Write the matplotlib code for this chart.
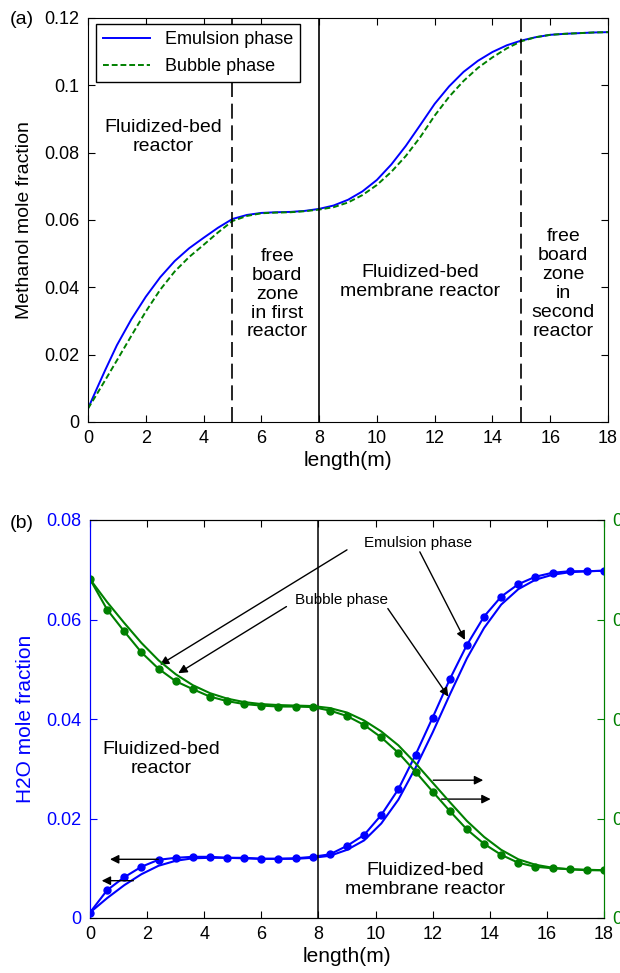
import matplotlib
matplotlib.use("Agg")
import matplotlib.pyplot as plt
from matplotlib.ticker import FuncFormatter

plt.rcParams['font.family'] = ['Liberation Sans', 'DejaVu Sans']

# ---------------- Panel (a) data: methanol mole fraction ----------------
xa = [0, 0.3, 0.6, 1, 1.5, 2, 2.5, 3, 3.5, 4, 4.5, 5, 5.5, 6, 6.5, 7, 7.5, 8,
      8.5, 9, 9.5, 10, 10.5, 11, 11.5, 12, 12.5, 13, 13.5, 14, 14.5, 15,
      15.5, 16, 16.5, 17, 17.5, 18]
meoh_emulsion = [0.0040, 0.0098, 0.0155, 0.0228, 0.0305, 0.0372, 0.0430, 0.0478,
                 0.0516, 0.0547, 0.0577, 0.0603, 0.0615, 0.0621, 0.0623, 0.0624,
                 0.0627, 0.0633, 0.0643, 0.0660, 0.0685, 0.0719, 0.0765, 0.0820,
                 0.0882, 0.0945, 0.0997, 0.1040, 0.1073, 0.1099, 0.1119, 0.1133,
                 0.1143, 0.1150, 0.1153, 0.1155, 0.1157, 0.1158]
meoh_bubble = [0.0040, 0.0082, 0.0125, 0.0183, 0.0256, 0.0328, 0.0393, 0.0447,
               0.0490, 0.0526, 0.0563, 0.0597, 0.0612, 0.0620, 0.0622, 0.0623,
               0.0626, 0.0631, 0.0638, 0.0652, 0.0674, 0.0704, 0.0743, 0.0790,
               0.0846, 0.0910, 0.0966, 0.1013, 0.1052, 0.1083, 0.1110, 0.1131,
               0.1143, 0.1150, 0.1153, 0.1155, 0.1157, 0.1158]

# ---------------- Panel (b) data ----------------
xb = [0, 0.6, 1.2, 1.8, 2.4, 3.0, 3.6, 4.2, 4.8, 5.4, 6.0, 6.6, 7.2, 7.8, 8.4,
      9.0, 9.6, 10.2, 10.8, 11.4, 12.0, 12.6, 13.2, 13.8, 14.4, 15.0, 15.6,
      16.2, 16.8, 17.4, 18.0]
h2o_emulsion = [0.0011, 0.0056, 0.0082, 0.0103, 0.0117, 0.0121, 0.0123, 0.0123,
                0.0121, 0.0121, 0.0119, 0.0119, 0.0120, 0.0123, 0.0128, 0.0145,
                0.0167, 0.0207, 0.0259, 0.0328, 0.0403, 0.0480, 0.0549, 0.0606,
                0.0646, 0.0671, 0.0686, 0.0694, 0.0697, 0.0697, 0.0698]
h2o_bubble = [0.0011, 0.0040, 0.0066, 0.0088, 0.0105, 0.0115, 0.0120, 0.0121,
              0.0121, 0.0120, 0.0119, 0.0119, 0.0119, 0.0121, 0.0125, 0.0137,
              0.0156, 0.0190, 0.0238, 0.0302, 0.0373, 0.0449, 0.0522, 0.0583,
              0.0630, 0.0661, 0.0680, 0.0690, 0.0695, 0.0697, 0.0698]
right_emulsion = [0.0681, 0.0620, 0.0576, 0.0534, 0.0501, 0.0476, 0.0460, 0.0445,
                  0.0436, 0.0430, 0.0427, 0.0425, 0.0425, 0.0424, 0.0417, 0.0406,
                  0.0388, 0.0363, 0.0332, 0.0294, 0.0254, 0.0215, 0.0178, 0.0149,
                  0.0127, 0.0111, 0.0103, 0.0100, 0.0098, 0.0096, 0.0096]
right_bubble = [0.0681, 0.0635, 0.0593, 0.0553, 0.0518, 0.0490, 0.0468, 0.0452,
                0.0441, 0.0434, 0.0430, 0.0428, 0.0427, 0.0426, 0.0422, 0.0413,
                0.0397, 0.0375, 0.0347, 0.0311, 0.0272, 0.0233, 0.0195, 0.0163,
                0.0137, 0.0118, 0.0107, 0.0101, 0.0098, 0.0097, 0.0096]

xticks = [0, 2, 4, 6, 8, 10, 12, 14, 16, 18]
yticks_a = [0, 0.02, 0.04, 0.06, 0.08, 0.1, 0.12]
yticks_b = [0, 0.02, 0.04, 0.06, 0.08]

W, H = 620, 973
fig = plt.figure(figsize=(W / 100, H / 100), dpi=100)
fmt = FuncFormatter(lambda v, p: '%g' % round(v, 4))

BLUE = '#0000ff'
GREEN = '#008000'
TFS = 13

# ---------------- Panel (a) ----------------
ax1 = fig.add_axes([88 / W, 1 - 422 / H, (608 - 88) / W, (422 - 18) / H])
ax1.plot(xa, meoh_emulsion, color=BLUE, lw=1.4, label='Emulsion phase')
ax1.plot(xa, meoh_bubble, color=GREEN, lw=1.4, ls=(0, (3, 1.5)), label='Bubble phase')
ax1.set_xlim(0, 18)
ax1.set_ylim(0, 0.12)
ax1.set_xticks(xticks)
ax1.set_yticks(yticks_a)
ax1.yaxis.set_major_formatter(fmt)
ax1.tick_params(direction='in', top=True, right=True, labelsize=TFS, pad=6, length=5)
ax1.axvline(5, color='black', lw=1.2, ls=(0, (9, 4)))
ax1.axvline(8, color='black', lw=1.2)
ax1.axvline(15, color='black', lw=1.2, ls=(0, (9, 4)))
ax1.set_xlabel('length(m)', fontsize=15, labelpad=3)
ax1.set_ylabel('Methanol mole fraction', fontsize=14, labelpad=8)
leg = ax1.legend(loc='upper left', bbox_to_anchor=(0.0154, 0.985), fontsize=13,
                 frameon=True, fancybox=False, edgecolor='black', framealpha=1,
                 handlelength=2.6, borderpad=0.4, labelspacing=0.55, borderaxespad=0)
leg.get_frame().set_linewidth(1.0)
ax1.text(2.6, 0.0847, 'Fluidized-bed\nreactor', ha='center', va='center', fontsize=14)
ax1.text(6.55, 0.038, 'free\nboard\nzone\nin first\nreactor', ha='center', va='center',
         fontsize=14, linespacing=1.15)
ax1.text(11.5, 0.0416, 'Fluidized-bed\nmembrane reactor', ha='center', va='center', fontsize=14)
ax1.text(16.45, 0.041, 'free\nboard\nzone\nin\nsecond\nreactor', ha='center', va='center',
         fontsize=14, linespacing=1.15)
fig.text(10 / W, 1 - 20 / H, '(a)', fontsize=14, ha='left', va='center')

# ---------------- Panel (b) ----------------
ax2 = fig.add_axes([90 / W, 1 - 918 / H, (604 - 90) / W, (918 - 520) / H])
ax3 = ax2.twinx()
ax2.plot(xb, h2o_emulsion, color=BLUE, lw=1.5, marker='o', ms=5)
ax2.plot(xb, h2o_bubble, color=BLUE, lw=1.5)
ax3.plot(xb, right_emulsion, color=GREEN, lw=1.5, marker='o', ms=5)
ax3.plot(xb, right_bubble, color=GREEN, lw=1.5)
for a in (ax2, ax3):
    a.set_xlim(0, 18)
    a.set_ylim(0, 0.08)
    a.set_yticks(yticks_b)
    a.yaxis.set_major_formatter(fmt)
ax2.set_xticks(xticks)
ax2.tick_params(axis='x', direction='in', top=True, labelsize=TFS, pad=6, length=5)
ax2.tick_params(axis='y', direction='in', colors=BLUE, labelsize=TFS, pad=6, length=5)
ax3.tick_params(axis='y', direction='in', colors=GREEN, labelsize=TFS, pad=6, length=5)
ax2.spines['left'].set_color(BLUE)
ax3.spines['left'].set_color(BLUE)
ax3.spines['right'].set_color(GREEN)
ax2.spines['right'].set_color(GREEN)
ax2.axvline(8, color='black', lw=1.1)
ax2.set_xlabel('length(m)', fontsize=15, labelpad=3)
ax2.set_ylabel('H2O mole fraction', fontsize=15, color=BLUE, labelpad=8)

ax2.text(2.51, 0.032, 'Fluidized-bed\nreactor', ha='center', va='center', fontsize=14)
ax2.text(11.73, 0.0076, 'Fluidized-bed\nmembrane reactor', ha='center', va='center', fontsize=14)
ax2.text(11.5, 0.0753, 'Emulsion phase', ha='center', va='center', fontsize=11)
ax2.text(8.82, 0.0639, 'Bubble phase', ha='center', va='center', fontsize=11)

arrow = dict(arrowstyle='-|>', color='black', lw=1.0, mutation_scale=13,
             shrinkA=0, shrinkB=0)
arrows = [
    ((9.0, 0.0740), (2.45, 0.0509)),
    ((11.55, 0.0736), (13.13, 0.0559)),
    ((6.88, 0.0626), (3.09, 0.0492)),
    ((10.43, 0.0622), (12.55, 0.0445)),
    ((2.39, 0.0118), (0.70, 0.0118)),
    ((1.52, 0.0075), (0.41, 0.0075)),
    ((12.02, 0.0277), (13.77, 0.0277)),
    ((12.31, 0.0239), (14.03, 0.0239)),
]
for (x0, y0), (x1, y1) in arrows:
    ax2.annotate('', xy=(x1, y1), xytext=(x0, y0), arrowprops=arrow)
fig.text(10 / W, 1 - 523 / H, '(b)', fontsize=14, ha='left', va='center')

fig.savefig('out.png', dpi=100)
